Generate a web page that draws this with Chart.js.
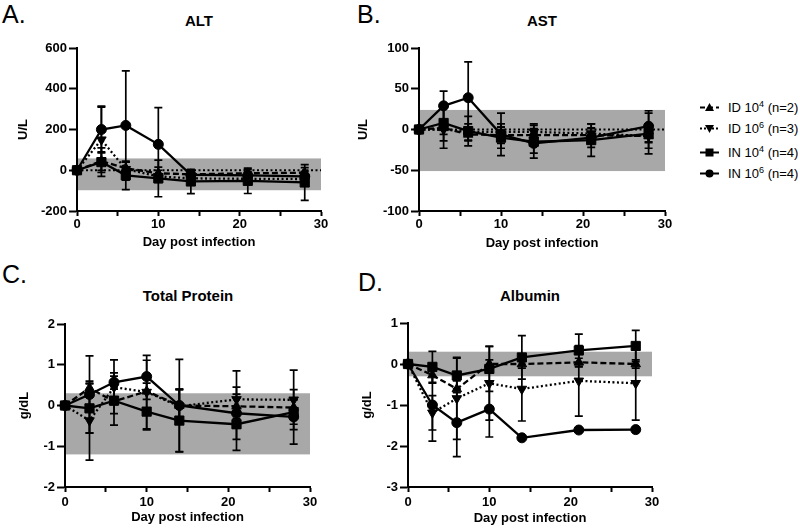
<!DOCTYPE html>
<html><head><meta charset="utf-8">
<script src="https://cdn.jsdelivr.net/npm/chart.js@4/dist/chart.umd.min.js"></script>
<style>
body{margin:0;background:#fff;width:800px;height:528px;position:relative;overflow:hidden;font-family:'Liberation Sans',Arial,sans-serif;color:#000;}
canvas{position:absolute;}
.letter{position:absolute;font-size:25px;line-height:1;}
.ttl{position:absolute;font-size:15px;font-weight:bold;transform:translate(-50%,-50%);white-space:nowrap;}
.leg{position:absolute;left:700px;font-size:13px;display:flex;align-items:center;white-space:nowrap;transform:translateY(-50%);}
.leg svg{margin-right:9px;}
.leg sup{font-size:9px;line-height:0;vertical-align:5px;}
</style></head><body>
<div class="letter" style="left:2px;top:2px">A.</div>
<div class="letter" style="left:357px;top:2px">B.</div>
<div class="letter" style="left:2px;top:262px">C.</div>
<div class="letter" style="left:358px;top:270px">D.</div>
<div class="ttl" style="left:199px;top:20px">ALT</div>
<div class="ttl" style="left:542px;top:20px">AST</div>
<div class="ttl" style="left:188px;top:295px">Total Protein</div>
<div class="ttl" style="left:530px;top:295px">Albumin</div>

<div class="leg" style="top:107px"><svg width="19" height="12"><line x1="0" y1="6" x2="19" y2="6" stroke="#000" stroke-width="2" stroke-dasharray="5,3"/><polygon points="9.5,1.5 14,9.5 5,9.5" fill="#000"/></svg><span>ID 10<sup>4</sup> (n=2)</span></div>
<div class="leg" style="top:128px"><svg width="19" height="12"><line x1="0" y1="6" x2="19" y2="6" stroke="#000" stroke-width="2" stroke-dasharray="2,2"/><polygon points="9.5,10.5 14,2.5 5,2.5" fill="#000"/></svg><span>ID 10<sup>6</sup> (n=3)</span></div>
<div class="leg" style="top:152px"><svg width="19" height="12"><line x1="0" y1="6" x2="19" y2="6" stroke="#000" stroke-width="2"/><rect x="5.5" y="2" width="8" height="8" fill="#000"/></svg><span>IN 10<sup>4</sup> (n=4)</span></div>
<div class="leg" style="top:173px"><svg width="19" height="12"><line x1="0" y1="6" x2="19" y2="6" stroke="#000" stroke-width="2"/><circle cx="9.5" cy="6" r="4" fill="#000"/></svg><span>IN 10<sup>6</sup> (n=4)</span></div>

<canvas id="cA" width="345" height="230" style="left:0px;top:28px"></canvas>
<canvas id="cB" width="345" height="230" style="left:340px;top:28px"></canvas>
<canvas id="cC" width="335" height="228" style="left:0px;top:300px"></canvas>
<canvas id="cD" width="335" height="228" style="left:340px;top:300px"></canvas>

<script>
// ---- data ----
const days = [0, 3, 6, 10, 14, 21, 28];
const seriesNames = ['ID 10⁴ (n=2)', 'ID 10⁶ (n=3)', 'IN 10⁴ (n=4)', 'IN 10⁶ (n=4)'];

// ALT (U/L)
const altID4 = [0, 45, 10, -15, -20, -15, -12];
const altID4err = [0, 45, 30, 30, 20, 20, 25];
const altID6 = [0, 150, 5, -30, -40, -42, -43];
const altID6err = [0, 160, 35, 30, 15, 15, 15];
const altIN4 = [0, 40, -25, -40, -55, -52, -60];
const altIN4err = [0, 70, 70, 90, 60, 62, 88];
const altIN6 = [0, 200, 220, 127, -22, -25, -30];
const altIN6err = [0, 115, 268, 180, 20, 20, 25];
const altBand = [-98, 58];
const altTicks = [-200, 0, 200, 400, 600];

// AST (U/L)
const astID4 = [0, 2, -6, -7, -7, -7, -8];
const astID4err = [0, 25, 8, 10, 8, 8, 8];
const astID6 = [0, 0, -3, -3, -3, -5, -8];
const astID6err = [0, 6, 10, 10, 10, 12, 15];
const astIN4 = [0, 8, -2, -10, -15, -13, -5];
const astIN4err = [0, 22, 18, 13, 20, 20, 25];
const astIN6 = [0, 29, 39, -6, -17, -10, 4];
const astIN6err = [0, 18, 44, 26, 12, 12, 19];
const astBand = [-51, 24];
const astTicks = [-100, -50, 0, 50, 100];

// Total protein (g/dL)
const tpID4 = [0, 0.43, 0.1, 0.35, 0.0, -0.02, -0.05];
const tpID4err = [0, 0.12, 0.3, 0.2, 0.4, 0.3, 0.2];
const tpID6 = [0, -0.37, 0.45, 0.33, -0.02, 0.15, 0.14];
const tpID6err = [0, 0.97, 0.35, 0.9, 0.4, 0.7, 0.73];
const tpIN4 = [0, -0.07, 0.12, -0.15, -0.37, -0.46, -0.16];
const tpIN4err = [0, 0.6, 0.6, 0.45, 0.77, 0.64, 0.3];
const tpIN6 = [0, 0.27, 0.57, 0.71, 0.0, -0.19, -0.28];
const tpIN6err = [0, 0.95, 0.55, 0.4, 1.13, 0.64, 0.67];
const tpBand = [-1.2, 0.3];
const tpTicks = [-2, -1, 0, 1, 2];

// Albumin (g/dL)
const alID4 = [0, -0.27, -0.61, 0.0, 0.0, 0.04, 0.0];
const alID4err = [0, 0.2, 0.2, 0.1, 0.1, 0.1, 0.1];
const alID6 = [0, -1.19, -0.84, -0.47, -0.61, -0.41, -0.47];
const alID6err = [0, 0.42, 1.0, 0.9, 0.78, 0.86, 0.9];
const alIN4 = [0, -0.07, -0.28, -0.12, 0.16, 0.33, 0.44];
const alIN4err = [0, 0.38, 0.42, 0.55, 0.53, 0.4, 0.38];
const alIN6 = [0, -1.0, -1.43, -1.1, -1.8, -1.61, -1.6];
const alIN6err = [0, 0.88, 0.83, 0.68, 0, 0, 0];
const alBand = [-0.3, 0.3];
const alTicks = [-3, -2, -1, 0, 1];

const dayTicks = [0, 10, 20, 30];

// ---- drawing ----
Chart.defaults.font.family = "'Liberation Sans', Arial, sans-serif";
Chart.defaults.color = '#000';

const extras = {
  id: 'extras',
  beforeDraw(chart, args, o) {
    const {ctx, scales: {x, y}} = chart;
    const xl = x.getPixelForValue(x.min) + 1, xr = x.getPixelForValue(x.max);
    const yt = y.getPixelForValue(o.band[1]), yb = y.getPixelForValue(o.band[0]);
    ctx.save();
    ctx.fillStyle = '#a8a8a8';
    ctx.fillRect(xl, yt, xr - xl, yb - yt);
    ctx.restore();
  },
  beforeDatasetsDraw(chart, args, o) {
    const {ctx, scales: {x, y}} = chart;
    ctx.save();
    if (o.zeroLine) {
      ctx.strokeStyle = '#000'; ctx.lineWidth = 2; ctx.setLineDash([2, 2.5]);
      const yy = y.getPixelForValue(0);
      ctx.beginPath(); ctx.moveTo(x.getPixelForValue(x.min), yy); ctx.lineTo(x.getPixelForValue(x.max), yy); ctx.stroke();
      ctx.setLineDash([]);
    }
    ctx.strokeStyle = '#000'; ctx.lineWidth = 1.7;
    chart.data.datasets.forEach(ds => {
      if (!ds.errors) return;
      ds.data.forEach((p, j) => {
        const e = ds.errors[j];
        if (!e) return;
        const px = x.getPixelForValue(p.x);
        const y1 = y.getPixelForValue(p.y + e), y2 = y.getPixelForValue(p.y - e);
        ctx.beginPath();
        ctx.moveTo(px, y1); ctx.lineTo(px, y2);
        ctx.moveTo(px - 4, y1); ctx.lineTo(px + 4, y1);
        ctx.moveTo(px - 4, y2); ctx.lineTo(px + 4, y2);
        ctx.stroke();
      });
    });
    ctx.restore();
  }
};

const styles = [
  {pointStyle: 'triangle', pointRadius: 5.5, borderDash: [6, 3], pointRotation: 0},
  {pointStyle: 'triangle', pointRadius: 5.5, borderDash: [2, 2.5], pointRotation: 180},
  {pointStyle: 'rect', pointRadius: 6.5, borderDash: [], pointRotation: 0},
  {pointStyle: 'circle', pointRadius: 5, borderDash: [], pointRotation: 0}
];

function makeDatasets(vals, errs) {
  return vals.map((v, i) => Object.assign({
    label: seriesNames[i],
    data: days.map((d, j) => ({x: d, y: v[j]})),
    errors: errs[i],
    borderColor: '#000', backgroundColor: '#000',
    pointBackgroundColor: '#000', pointBorderColor: '#000', pointBorderWidth: 1,
    borderWidth: 2.3, tension: 0, fill: false, clip: false
  }, styles[i]));
}

function makeChart(id, cfg) {
  const tickFont = {size: 13, weight: 'bold'};
  return new Chart(document.getElementById(id), {
    type: 'line',
    data: {datasets: makeDatasets(cfg.vals, cfg.errs)},
    plugins: [extras],
    options: {
      responsive: false, animation: false, events: [],
      layout: {padding: cfg.pad},
      plugins: {legend: {display: false}, tooltip: {enabled: false}, title: {display: false},
        extras: {band: cfg.band, zeroLine: cfg.zeroLine}},
      scales: {
        x: {
          type: 'linear', min: 0, max: 30,
          afterFit: s => { s.height = cfg.xh; },
          afterBuildTicks: s => { s.ticks = [0, 5, 10, 15, 20, 25, 30].map(v => ({value: v})); },
          ticks: {font: tickFont, padding: cfg.xtp, maxRotation: 0, autoSkip: false,
            callback: v => dayTicks.includes(v) ? String(v) : ''},
          grid: {display: true, drawOnChartArea: false, drawTicks: true, tickLength: 5, tickWidth: 2, tickColor: '#000'},
          border: {display: true, color: '#000', width: 2},
          title: {display: true, text: 'Day post infection', font: {size: 13, weight: 'bold'}, padding: {top: 0, bottom: cfg.xtitle}}
        },
        y: {
          type: 'linear', min: cfg.ticks[0], max: cfg.ticks[cfg.ticks.length - 1],
          afterFit: s => { s.width = cfg.yw; },
          afterBuildTicks: s => { s.ticks = cfg.ticks.map(v => ({value: v})); },
          ticks: {font: tickFont, padding: 2, autoSkip: false, callback: v => String(v)},
          grid: {display: true, drawOnChartArea: false, drawTicks: true, tickLength: 8, tickWidth: 2, tickColor: '#000'},
          border: {display: true, color: '#000', width: 2},
          title: {display: true, text: cfg.ytitle, font: {size: 13, weight: 'bold'}, padding: {top: cfg.ytitlePad, bottom: 0}}
        }
      }
    }
  });
}

makeChart('cA', {vals: [altID4, altID6, altIN4, altIN6], errs: [altID4err, altID6err, altIN4err, altIN6err],
  band: altBand, ticks: altTicks, zeroLine: true, ytitle: 'U/L',
  pad: {top: 20, right: 24, left: 0, bottom: 0}, yw: 77, xh: 47, xtp: 1, xtitle: 8, ytitlePad: 16});
makeChart('cB', {vals: [astID4, astID6, astIN4, astIN6], errs: [astID4err, astID6err, astIN4err, astIN6err],
  band: astBand, ticks: astTicks, zeroLine: true, ytitle: 'U/L',
  pad: {top: 20, right: 20, left: 0, bottom: 0}, yw: 79, xh: 47, xtp: 1, xtitle: 7, ytitlePad: 16});
makeChart('cC', {vals: [tpID4, tpID6, tpIN4, tpIN6], errs: [tpID4err, tpID6err, tpIN4err, tpIN6err],
  band: tpBand, ticks: tpTicks, zeroLine: false, ytitle: 'g/dL',
  pad: {top: 24, right: 25, left: 0, bottom: 0}, yw: 65, xh: 41, xtp: 3, xtitle: 3, ytitlePad: 17});
makeChart('cD', {vals: [alID4, alID6, alIN4, alIN6], errs: [alID4err, alID6err, alIN4err, alIN6err],
  band: alBand, ticks: alTicks, zeroLine: false, ytitle: 'g/dL',
  pad: {top: 23, right: 23, left: 0, bottom: 0}, yw: 68, xh: 41, xtp: 3, xtitle: 2, ytitlePad: 20});
</script>
</body></html>
